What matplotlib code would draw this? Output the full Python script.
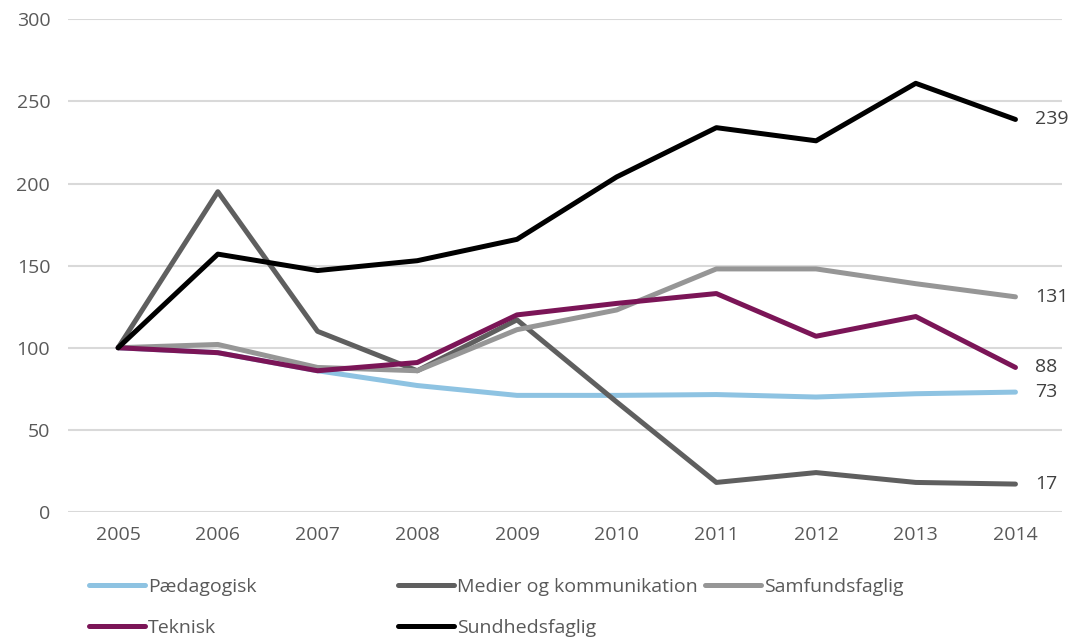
import matplotlib
import matplotlib.pyplot as plt
matplotlib.use('Agg')

# Data (index, 2005 = 100)
years = [2005, 2006, 2007, 2008, 2009, 2010, 2011, 2012, 2013, 2014]
paedagogisk = [100, 97, 86, 77, 71, 71, 71.5, 70, 72, 73]
medier = [100, 195, 110, 86, 117, 67, 18, 24, 18, 17]
samfundsfaglig = [100, 102, 88, 86, 111, 123, 148, 148, 139, 131]
teknisk = [100, 97, 86, 91, 120, 127, 133, 107, 119, 88]
sundhedsfaglig = [100, 157, 147, 153, 166, 204, 234, 226, 261, 239]

names = ['Pædagogisk', 'Medier og kommunikation', 'Samfundsfaglig', 'Teknisk', 'Sundhedsfaglig']
series = [paedagogisk, medier, samfundsfaglig, teknisk, sundhedsfaglig]
colors = ['#8ec3e2', '#5f5f5f', '#969696', '#7b1557', '#000000']
end_labels = [73, 17, 131, 88, 239]

plt.rcParams['font.family'] = ['Open Sans', 'DejaVu Sans']
text_color = '#595959'

fig = plt.figure(figsize=(10.84, 6.42), dpi=100)
ax = fig.add_axes([0.063, 0.2025, 0.917, 0.7675])

handles = []
for vals, name, col in zip(series, names, colors):
    h, = ax.plot(years, vals, color=col, lw=3.6, label=name,
                 solid_capstyle='round', zorder=3)
    handles.append(h)

# Value labels at the right end
for vals, lab in zip(series, end_labels):
    ax.annotate(str(lab), xy=(years[-1], vals[-1]), xytext=(14, 0),
                textcoords='offset points', va='center', ha='left',
                fontsize=14, color='#404040')

ax.set_xlim(2004.5, 2014.47)
ax.set_ylim(0, 300)
ax.set_yticks(range(0, 301, 50))
ax.set_xticks(years)
ax.grid(axis='y', color='#d9d9d9', lw=1.5, zorder=0)
for s in ax.spines.values():
    s.set_visible(False)
ax.tick_params(axis='both', length=0, labelsize=14, labelcolor=text_color)
ax.tick_params(axis='y', pad=13)
ax.tick_params(axis='x', pad=10)

# Legend: fixed-width columns like the original
columns = [[0, 3], [1, 4], [2]]
col_x = [89, 398, 705]
for idx, x in zip(columns, col_x):
    leg = fig.legend([handles[i] for i in idx], [names[i] for i in idx],
                     loc='upper left', bbox_to_anchor=(x / 1084, 1 - 578 / 642),
                     frameon=False, fontsize=14, handlelength=2.9,
                     handletextpad=0.15, labelspacing=1.16, borderpad=0,
                     borderaxespad=0)
    for t in leg.get_texts():
        t.set_color(text_color)

fig.savefig('out.png', dpi=100)
